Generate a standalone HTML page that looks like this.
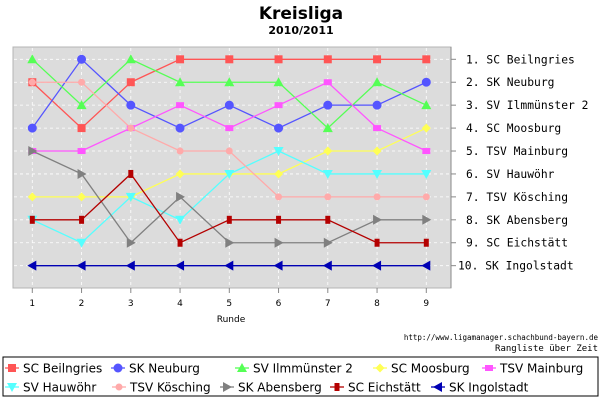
<!DOCTYPE html>
<html><head><meta charset="utf-8"><style>
body{margin:0;background:#fff;width:600px;height:400px;overflow:hidden;font-family:"DejaVu Sans","Liberation Sans",sans-serif}
</style></head><body>
<svg id="c" width="600" height="400" xmlns="http://www.w3.org/2000/svg">
<text x="301" y="19" text-anchor="middle" font-weight="bold" font-size="17">Kreisliga</text>
<text x="301" y="34" text-anchor="middle" font-weight="bold" font-size="11">2010/2011</text>
<rect x="13" y="47" width="438" height="241" fill="#dcdcdc" stroke="#b4b4b4"/>
<g id="grid"></g><g id="series"></g><g id="axes"></g>
<text x="231" y="322" text-anchor="middle" font-size="9">Runde</text>
<text x="598" y="340" text-anchor="end" font-size="7.5" font-family="DejaVu Sans Mono,monospace">http://www.ligamanager.schachbund-bayern.de</text>
<text x="598" y="351" text-anchor="end" font-size="9" font-family="DejaVu Sans Mono,monospace">Rangliste über Zeit</text>
<rect x="3" y="357" width="595" height="39" fill="#fff" stroke="#000" stroke-width="1"/>
<g id="legend"></g>
</svg>
<script>
const rounds=[1,2,3,4,5,6,7,8,9];
const teams=["SC Beilngries","SK Neuburg","SV Ilmmünster 2","SC Moosburg","TSV Mainburg","SV Hauwöhr","TSV Kösching","SK Abensberg","SC Eichstätt","SK Ingolstadt"];
const sBeilngries=[2,4,2,1,1,1,1,1,1];
const sNeuburg=[4,1,3,4,3,4,3,3,2];
const sIlm=[1,3,1,2,2,2,4,2,3];
const sMoosburg=[7,7,7,6,6,6,5,5,4];
const sMainburg=[5,5,4,3,4,3,2,4,5];
const sHauwoehr=[8,9,7,8,6,5,6,6,6];
const sKoesching=[2,2,4,5,5,7,7,7,7];
const sAbensberg=[5,6,9,7,9,9,9,8,8];
const sEichstaett=[8,8,6,9,8,8,8,9,9];
const sIngolstadt=[10,10,10,10,10,10,10,10,10];
const finalLabels=["1. SC Beilngries","2. SK Neuburg","3. SV Ilmmünster 2","4. SC Moosburg","5. TSV Mainburg","6. SV Hauwöhr","7. TSV Kösching","8. SK Abensberg","9. SC Eichstätt","10. SK Ingolstadt"];
const series=[sBeilngries,sNeuburg,sIlm,sMoosburg,sMainburg,sHauwoehr,sKoesching,sAbensberg,sEichstaett,sIngolstadt];
const colors=["#ff5555","#5555ff","#55ff55","#ffff55","#ff55ff","#55ffff","#ffaaaa","#808080","#b40000","#0000b4"];
const marks=["square","circle","tri-up","diamond","rect","tri-down","circle-s","tri-right","rect-v","tri-left"];
const NS="http://www.w3.org/2000/svg";
const X=r=>32.3+(r-1)*49.25, Y=k=>59.3+(k-1)*22.93;
function el(t,a,p){const e=document.createElementNS(NS,t);for(const k in a)e.setAttribute(k,a[k]);p.appendChild(e);return e;}
const grid=document.getElementById('grid'),axes=document.getElementById('axes'),sg=document.getElementById('series'),lg=document.getElementById('legend');
rounds.forEach(r=>{
 const l=el('line',{x1:X(r),x2:X(r),y1:48,y2:287,stroke:'#fff','stroke-dasharray':'3,3','stroke-width':0.8},grid);
 
 const t=el('line',{x1:X(r),x2:X(r),y1:288,y2:293,stroke:'#888'},axes);
 
 const tx=el('text',{x:X(r),y:306,'text-anchor':'middle','font-size':9},axes);tx.textContent=r;
 
});
el('line',{x1:451,x2:451,y1:47,y2:288,stroke:'#888'},axes);
finalLabels.forEach((s,i)=>{
 const y=Y(i+1);
 const l=el('line',{x1:14,x2:450,y1:y,y2:y,stroke:'#fff','stroke-dasharray':'3,3','stroke-width':0.8},grid);
 
 el('line',{x1:451,x2:456,y1:y,y2:y,stroke:'#888'},axes);
 const t=el('text',{x:i==9?458:466,y:y+4,'font-size':11.3,'font-family':'DejaVu Sans Mono,monospace'},axes);t.textContent=s;
 
});
function marker(kind,x,y,c,p){
 let e;
 if(kind=='square')e=el('rect',{x:x-4,y:y-4,width:8,height:8,fill:c},p);
 else if(kind=='rect')e=el('rect',{x:x-4,y:y-3,width:8,height:6,fill:c},p);
 else if(kind=='rect-v')e=el('rect',{x:x-2.5,y:y-4,width:5,height:8,fill:c},p);
 else if(kind=='circle')e=el('circle',{cx:x,cy:y,r:4.5,fill:c},p);
 else if(kind=='circle-s')e=el('circle',{cx:x,cy:y,r:3.5,fill:c},p);
 else{let pts;
  if(kind=='tri-up')pts=[[x,y-5],[x-5,y+4],[x+5,y+4]];
  if(kind=='tri-down')pts=[[x,y+5],[x-5,y-4],[x+5,y-4]];
  if(kind=='tri-right')pts=[[x+5,y],[x-4,y-5],[x-4,y+5]];
  if(kind=='tri-left')pts=[[x-5,y],[x+4,y-5],[x+4,y+5]];
  if(kind=='diamond')pts=[[x,y-4.5],[x+4.5,y],[x,y+4.5],[x-4.5,y]];
  e=el('polygon',{points:pts.map(q=>q.join(',')).join(' '),fill:c},p);}
 return e;
}
series.forEach((d,i)=>{
 const g=el('g',{},sg);
 const pl=el('polyline',{points:d.map((v,j)=>X(rounds[j])+','+Y(v)).join(' '),fill:'none',stroke:colors[i],'stroke-width':1.3},g);
 
 d.forEach((v,j)=>{const m=marker(marks[i],X(rounds[j]),Y(v),colors[i],g);
  });
});
const ltx=[23,129,253,391,500,23,130,238,348,449];
teams.forEach((t,i)=>{
 const x=ltx[i]-18,y=i<5?368:387;
 const g=el('g',{},lg);
 el('line',{x1:x,x2:x+14,y1:y,y2:y,stroke:colors[i],'stroke-width':1.3},g);
 marker(marks[i],x+7,y,colors[i],g);
 const tx=el('text',{x:x+18,y:y+4.5,'font-size':12},g);tx.textContent=t;
});
</script>
</body></html>
